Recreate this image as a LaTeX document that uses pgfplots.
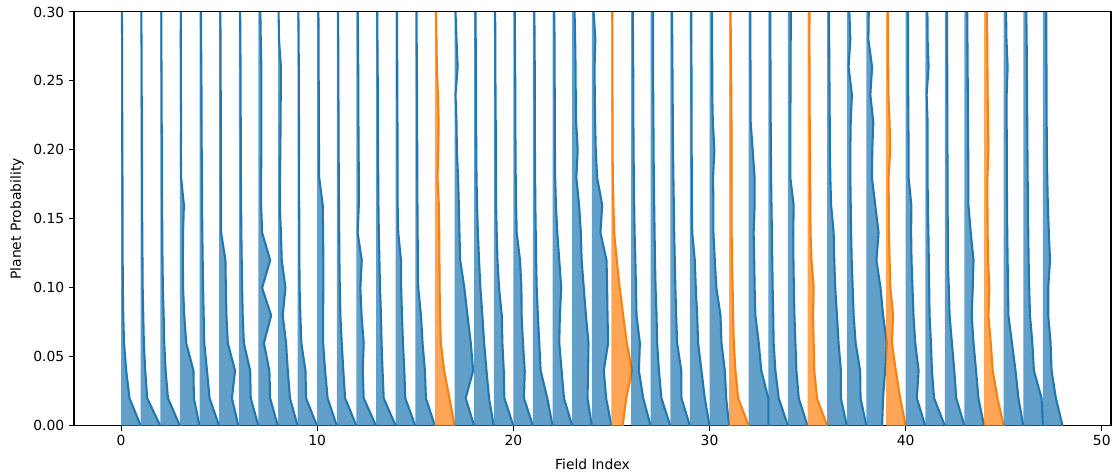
\documentclass[border=0pt]{standalone}
\usepackage{pgfplots}
\usepackage{pgfplotstable}
\pgfplotsset{compat=1.18}
\usepackage{fontspec}
\setmainfont{DejaVu Sans}
\definecolor{tabblue}{HTML}{1F77B4}
\definecolor{taborange}{HTML}{FF7F0E}
\pgfplotsforeachungrouped \i in {0,...,47}{\colorlet{lc\i}{tabblue}}%
\colorlet{lc16}{taborange}%
\colorlet{lc25}{taborange}%
\colorlet{lc31}{taborange}%
\colorlet{lc35}{taborange}%
\colorlet{lc39}{taborange}%
\colorlet{lc44}{taborange}%

% rows: fields; columns: half-width at y = 0,0.02,...,0.30 (p0/p1 close the outline at x = field index)
\pgfplotstableread{
field p0 w00 w02 w04 w06 w08 w10 w12 w14 w16 w18 w20 w22 w24 w26 w28 w30 p1
y 0 0 0.02 0.04 0.06 0.08 0.10 0.12 0.14 0.16 0.18 0.20 0.22 0.24 0.26 0.28 0.30 0.30
f0 0 1.0 0.43 0.26 0.15 0.11 0.09 0.08 0.08 0.07 0.07 0.06 0.06 0.05 0.05 0.05 0.04 0
f1 0 1.0 0.33 0.23 0.16 0.13 0.10 0.09 0.08 0.07 0.07 0.06 0.06 0.05 0.05 0.04 0.03 0
f2 0 1.0 0.39 0.27 0.20 0.17 0.13 0.11 0.10 0.09 0.08 0.08 0.07 0.07 0.06 0.05 0.05 0
f3 0 1.0 0.71 0.69 0.32 0.22 0.16 0.15 0.16 0.20 0.06 0.05 0.06 0.05 0.05 0.04 0.05 0
f4 0 1.0 0.51 0.38 0.24 0.21 0.18 0.16 0.14 0.13 0.12 0.11 0.10 0.10 0.09 0.08 0.07 0
f5 0 0.98 0.65 0.81 0.44 0.37 0.34 0.32 0.10 0.10 0.09 0.09 0.08 0.08 0.07 0.07 0.06 0
f6 0 1.0 0.61 0.58 0.26 0.20 0.17 0.15 0.13 0.12 0.11 0.11 0.10 0.09 0.09 0.08 0.07 0
f7 0 0.99 0.60 0.56 0.28 0.65 0.19 0.60 0.19 0.14 0.14 0.15 0.15 0.15 0.15 0.12 0.10 0
f8 0 1.0 0.61 0.50 0.41 0.24 0.38 0.19 0.15 0.09 0.10 0.12 0.13 0.14 0.15 0.05 0.03 0
f9 0 0.99 0.43 0.40 0.19 0.14 0.10 0.09 0.09 0.08 0.08 0.07 0.07 0.06 0.06 0.05 0.04 0
f10 0 1.0 0.53 0.40 0.30 0.30 0.31 0.31 0.30 0.28 0.10 0.09 0.08 0.08 0.07 0.07 0.06 0
f11 0 1.0 0.42 0.33 0.25 0.18 0.15 0.13 0.12 0.11 0.10 0.09 0.09 0.08 0.08 0.07 0.06 0
f12 0 1.0 0.37 0.32 0.37 0.26 0.20 0.27 0.06 0.12 0.12 0.11 0.10 0.10 0.09 0.08 0.07 0
f13 0 1.0 0.39 0.33 0.28 0.25 0.20 0.17 0.14 0.12 0.11 0.10 0.09 0.09 0.08 0.07 0.06 0
f14 0 1.0 0.49 0.44 0.37 0.32 0.28 0.27 0.13 0.10 0.10 0.09 0.09 0.08 0.08 0.07 0.07 0
f15 0 1.0 0.54 0.49 0.37 0.29 0.15 0.13 0.12 0.11 0.10 0.10 0.09 0.09 0.08 0.07 0.07 0
f16 0 1.0 0.74 0.47 0.30 0.26 0.24 0.23 0.22 0.20 0.13 0.17 0.19 0.15 0.10 0.08 0.05 0
f17 0 1.0 0.57 0.95 0.83 0.66 0.50 0.29 0.25 0.22 0.18 0.12 0.10 0.05 0.16 0.10 0.05 0
f18 0 1.0 0.76 0.63 0.51 0.42 0.32 0.25 0.19 0.15 0.12 0.11 0.10 0.10 0.09 0.08 0.07 0
f19 0 1.0 0.54 0.51 0.44 0.41 0.27 0.19 0.15 0.12 0.11 0.10 0.10 0.09 0.08 0.08 0.07 0
f20 0 1.0 0.54 0.58 0.49 0.42 0.41 0.34 0.17 0.14 0.12 0.11 0.10 0.10 0.09 0.08 0.07 0
f21 0 1.0 0.73 0.39 0.32 0.25 0.19 0.16 0.14 0.12 0.11 0.10 0.10 0.09 0.09 0.08 0.07 0
f22 0 1.0 0.58 0.46 0.34 0.37 0.44 0.34 0.24 0.17 0.13 0.12 0.12 0.11 0.10 0.10 0.08 0
f23 0 1.0 0.78 0.81 0.83 0.70 0.59 0.48 0.44 0.35 0.21 0.28 0.20 0.18 0.17 0.15 0.12 0
f24 0 1.0 0.73 0.61 0.83 0.80 0.78 0.75 0.44 0.53 0.27 0.20 0.17 0.15 0.14 0.18 0.09 0
f25 0 0.57 0.75 1.05 0.78 0.60 0.42 0.27 0.14 0.10 0.07 0.06 0.06 0.05 0.05 0.05 0.04 0
f26 0 1.0 0.62 0.40 0.45 0.28 0.25 0.22 0.18 0.16 0.14 0.13 0.12 0.12 0.11 0.10 0.09 0
f27 0 1.0 0.55 0.42 0.33 0.30 0.25 0.22 0.20 0.18 0.16 0.15 0.14 0.13 0.12 0.12 0.12 0
f28 0 1.0 0.57 0.56 0.35 0.30 0.26 0.23 0.20 0.18 0.16 0.14 0.13 0.12 0.11 0.10 0.09 0
f29 0 1.0 0.76 0.59 0.42 0.37 0.30 0.25 0.12 0.10 0.10 0.09 0.09 0.08 0.08 0.07 0.07 0
f30 0 1.0 0.85 0.78 0.61 0.56 0.35 0.27 0.20 0.20 0.18 0.25 0.17 0.14 0.14 0.13 0.13 0
f31 0 1.0 0.46 0.32 0.24 0.20 0.18 0.14 0.13 0.13 0.12 0.12 0.12 0.11 0.10 0.09 0.07 0
f32 0 1.0 1.0 0.64 0.51 0.34 0.30 0.28 0.25 0.30 0.30 0.20 0.10 0.10 0.09 0.08 0.08 0
f33 0 1.0 0.53 0.36 0.27 0.25 0.22 0.20 0.18 0.16 0.14 0.13 0.12 0.11 0.11 0.10 0.10 0
f34 0 1.0 0.55 0.43 0.38 0.33 0.30 0.28 0.27 0.29 0.12 0.12 0.12 0.13 0.13 0.14 0.14 0
f35 0 1.0 0.48 0.34 0.31 0.28 0.31 0.20 0.15 0.14 0.13 0.12 0.11 0.10 0.10 0.09 0.10 0
f36 0 1.0 0.70 0.70 0.58 0.50 0.41 0.36 0.33 0.20 0.16 0.14 0.13 0.12 0.11 0.10 0.09 0
f37 0 1.0 0.70 0.68 0.45 0.35 0.30 0.25 0.22 0.20 0.18 0.18 0.20 0.26 0.09 0.18 0.13 0
f38 0 0.80 0.85 0.95 1.04 0.85 0.72 0.51 0.62 0.45 0.28 0.30 0.35 0.20 0.29 0.10 0.12 0
f39 0 1.0 0.72 0.50 0.30 0.36 0.22 0.18 0.15 0.14 0.13 0.21 0.18 0.12 0.11 0.10 0.09 0
f40 0 1.0 0.57 0.66 0.49 0.40 0.35 0.30 0.28 0.29 0.15 0.15 0.14 0.13 0.12 0.13 0.12 0
f41 0 1.0 0.45 0.34 0.29 0.22 0.20 0.18 0.16 0.13 0.12 0.12 0.12 0.07 0.17 0.12 0.11 0
f42 0 1.0 0.58 0.48 0.36 0.24 0.20 0.15 0.15 0.14 0.14 0.13 0.13 0.12 0.12 0.11 0.11 0
f43 0 1.0 0.71 0.59 0.46 0.37 0.42 0.46 0.32 0.20 0.20 0.19 0.18 0.17 0.16 0.15 0.14 0
f44 0 1.0 0.68 0.44 0.34 0.22 0.27 0.20 0.18 0.17 0.17 0.22 0.20 0.18 0.17 0.16 0.14 0
f45 0 1.0 0.75 0.60 0.42 0.24 0.22 0.20 0.18 0.17 0.16 0.16 0.15 0.15 0.20 0.14 0.12 0
f46 0 1.0 0.93 0.54 0.46 0.34 0.30 0.27 0.25 0.24 0.22 0.21 0.20 0.19 0.18 0.17 0.15 0
f47 0 1.0 0.66 0.44 0.39 0.27 0.27 0.36 0.30 0.25 0.22 0.20 0.19 0.18 0.18 0.17 0.17 0
}\src
\pgfplotstabletranspose[colnames from=field, input colnames to=wcol]{\data}{\src}

\begin{document}
\begin{tikzpicture}
\begin{axis}[
  at={(0,0)}, anchor=south west,
  scale only axis, width=746.6pt, height=298pt,
  xmin=-2.4, xmax=50.47, ymin=0, ymax=0.3,
  xtick={0,10,20,30,40,50},
  ytick={0,0.05,0.10,0.15,0.20,0.25,0.30},
  yticklabel style={/pgf/number format/.cd, fixed, fixed zerofill, precision=2},
  /pgf/number format/assume math mode=true,
  tick align=outside, tick pos=left,
  major tick length=3.5pt,
  tick style={black, line width=0.8pt},
  axis line style={black, line width=0.8pt},
  ticklabel style={font=\fontsize{10}{12}\selectfont},
  label style={font=\fontsize{10}{12}\selectfont},
  xlabel={Field Index}, ylabel={Planet Probability},
  xlabel style={yshift=-2.3pt},
]
\pgfplotsinvokeforeach{0,...,47}{
  \addplot[fill=lc#1, fill opacity=0.7, draw=none, forget plot]
    table[x expr=\thisrow{f#1}+#1, y=y]{\data};
  \addplot[draw=lc#1, line width=1.5pt, line join=round, forget plot,
    skip coords between index={0}{1}, skip coords between index={17}{18}]
    table[x expr=\thisrow{f#1}+#1, y=y]{\data};
}
\end{axis}
\pgfresetboundingbox
\useasboundingbox (-53.3pt,-33.8pt) rectangle (750.2pt,306.6pt);
\end{tikzpicture}
\end{document}
